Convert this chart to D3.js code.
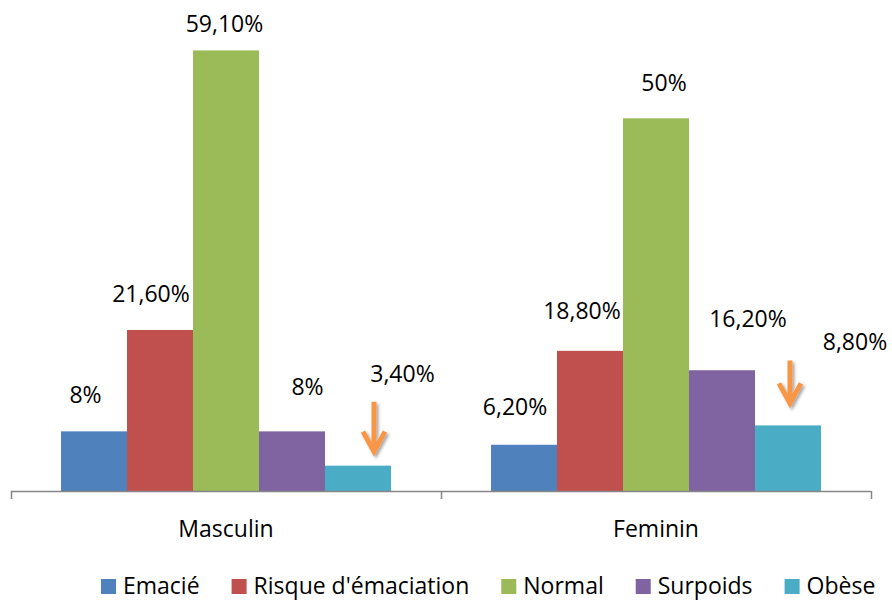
<!DOCTYPE html>
<html>
<head>
<meta charset="utf-8">
<script src="https://cdn.jsdelivr.net/npm/d3@7/dist/d3.min.js"></script>
<style>
  html, body { margin: 0; padding: 0; background: #fff; }
  svg { display: block; font-family: "Open Sans", "Noto Sans", sans-serif; }
</style>
</head>
<body>
<svg id="chart" width="892" height="602"></svg>
<script>
// Data: nutritional status by sex (percent)
const categories = ["Masculin", "Feminin"];
const series = ["Emacié", "Risque d'émaciation", "Normal", "Surpoids", "Obèse"];
const masculin = [8, 21.6, 59.1, 8, 3.4];
const feminin = [6.2, 18.8, 50, 16.2, 8.8];
const valueLabels = [
  ["8%", "21,60%", "59,10%", "8%", "3,40%"],
  ["6,20%", "18,80%", "50%", "16,20%", "8,80%"]
];
const colors = ["#4F81BD", "#C0504D", "#9BBB59", "#8064A2", "#4BACC6"];

// Label placement: offset from the bar's centre / top (px)
const labelOffsets = [
  [[-8.5, -28], [-9, -28], [-1.5, -18], [15.5, -36], [44.5, -84]],
  [[-9, -30], [-8, -32], [8, -27], [26, -43], [67, -75]]
];
// Orange pointer arrows above the "Obèse" bars: [dx, gap above bar, length]
const arrowMarks = [
  { cat: 0, s: 4, dx: 16, gap: 14, len: 50 },
  { cat: 1, s: 4, dx: 2, gap: 22, len: 43 }
];

const values = [masculin, feminin];

const svg = d3.select("#chart");
const baseY = 491;

const x0 = d3.scaleBand().domain(categories).range([11, 871]).paddingInner(0).paddingOuter(0);
const x1 = d3.scaleBand().domain(series).range([0, x0.bandwidth()]).paddingInner(0).paddingOuter(0.758);
const y = d3.scaleLinear().domain([0, 60]).range([baseY, baseY - 60 * 7.455]);

// Drop shadow for arrows
const defs = svg.append("defs");
const f = defs.append("filter").attr("id", "shadow").attr("x", "-50%").attr("y", "-50%").attr("width", "200%").attr("height", "200%");
f.append("feDropShadow").attr("dx", 2).attr("dy", 2).attr("stdDeviation", 1.6)
  .attr("flood-color", "#000").attr("flood-opacity", 0.35);

// Bars
const groups = svg.append("g").selectAll("g")
  .data(categories)
  .join("g")
  .attr("transform", d => `translate(${x0(d)},0)`);

groups.each(function(cat, ci) {
  const g = d3.select(this);
  g.selectAll("rect")
    .data(values[ci])
    .join("rect")
    .attr("x", (d, i) => x1(series[i]))
    .attr("y", d => y(d))
    .attr("width", x1.bandwidth())
    .attr("height", d => baseY - y(d))
    .attr("fill", (d, i) => colors[i]);

  g.selectAll("text.val")
    .data(values[ci])
    .join("text")
    .attr("class", "val")
    .attr("x", (d, i) => x1(series[i]) + x1.bandwidth() / 2 + labelOffsets[ci][i][0])
    .attr("y", (d, i) => y(d) + labelOffsets[ci][i][1])
    .attr("text-anchor", "middle")
    .attr("font-size", 23)
    .attr("fill", "#000")
    .text((d, i) => valueLabels[ci][i]);
});

// Category axis: baseline with ticks at band boundaries
const axisColor = "#868686";
const axisG = svg.append("g");
axisG.append("line")
  .attr("x1", x0.range()[0]).attr("x2", x0.range()[1])
  .attr("y1", baseY + 0.5).attr("y2", baseY + 0.5)
  .attr("stroke", axisColor).attr("stroke-width", 1.5);
const bounds = categories.map(c => x0(c)).concat([x0.range()[1]]);
axisG.selectAll("line.tick")
  .data(bounds)
  .join("line")
  .attr("class", "tick")
  .attr("x1", d => d + 0.5).attr("x2", d => d + 0.5)
  .attr("y1", baseY).attr("y2", baseY + 8)
  .attr("stroke", axisColor).attr("stroke-width", 1.5);
axisG.selectAll("text")
  .data(categories)
  .join("text")
  .attr("x", d => x0(d) + x0.bandwidth() / 2)
  .attr("y", 537)
  .attr("text-anchor", "middle")
  .attr("font-size", 23)
  .attr("fill", "#000")
  .text(d => d);

// Arrows
const arrowG = svg.append("g").attr("filter", "url(#shadow)");
arrowMarks.forEach(a => {
  const cx = x0(categories[a.cat]) + x1(series[a.s]) + x1.bandwidth() / 2 + a.dx;
  const tipY = y(values[a.cat][a.s]) - a.gap;
  const topY = tipY - a.len;
  const p = d3.path();
  p.moveTo(cx, topY);
  p.lineTo(cx, tipY);
  p.moveTo(cx - 11, tipY - 20);
  p.lineTo(cx, tipY);
  p.lineTo(cx + 11, tipY - 20);
  arrowG.append("path")
    .attr("d", p.toString())
    .attr("fill", "none")
    .attr("stroke", "#F79646")
    .attr("stroke-width", 5)
    .attr("stroke-linecap", "butt")
    .attr("stroke-linejoin", "miter");
});

// Legend
const legend = svg.append("g");
let lx = 101;
series.forEach((s, i) => {
  legend.append("rect")
    .attr("x", lx).attr("y", 579).attr("width", 15).attr("height", 15)
    .attr("fill", colors[i]);
  const t = legend.append("text")
    .attr("x", lx + 22).attr("y", 594)
    .attr("font-size", 23).attr("fill", "#000")
    .text(s);
  lx += 22 + t.node().getComputedTextLength() + 32;
});
</script>
</body>
</html>
